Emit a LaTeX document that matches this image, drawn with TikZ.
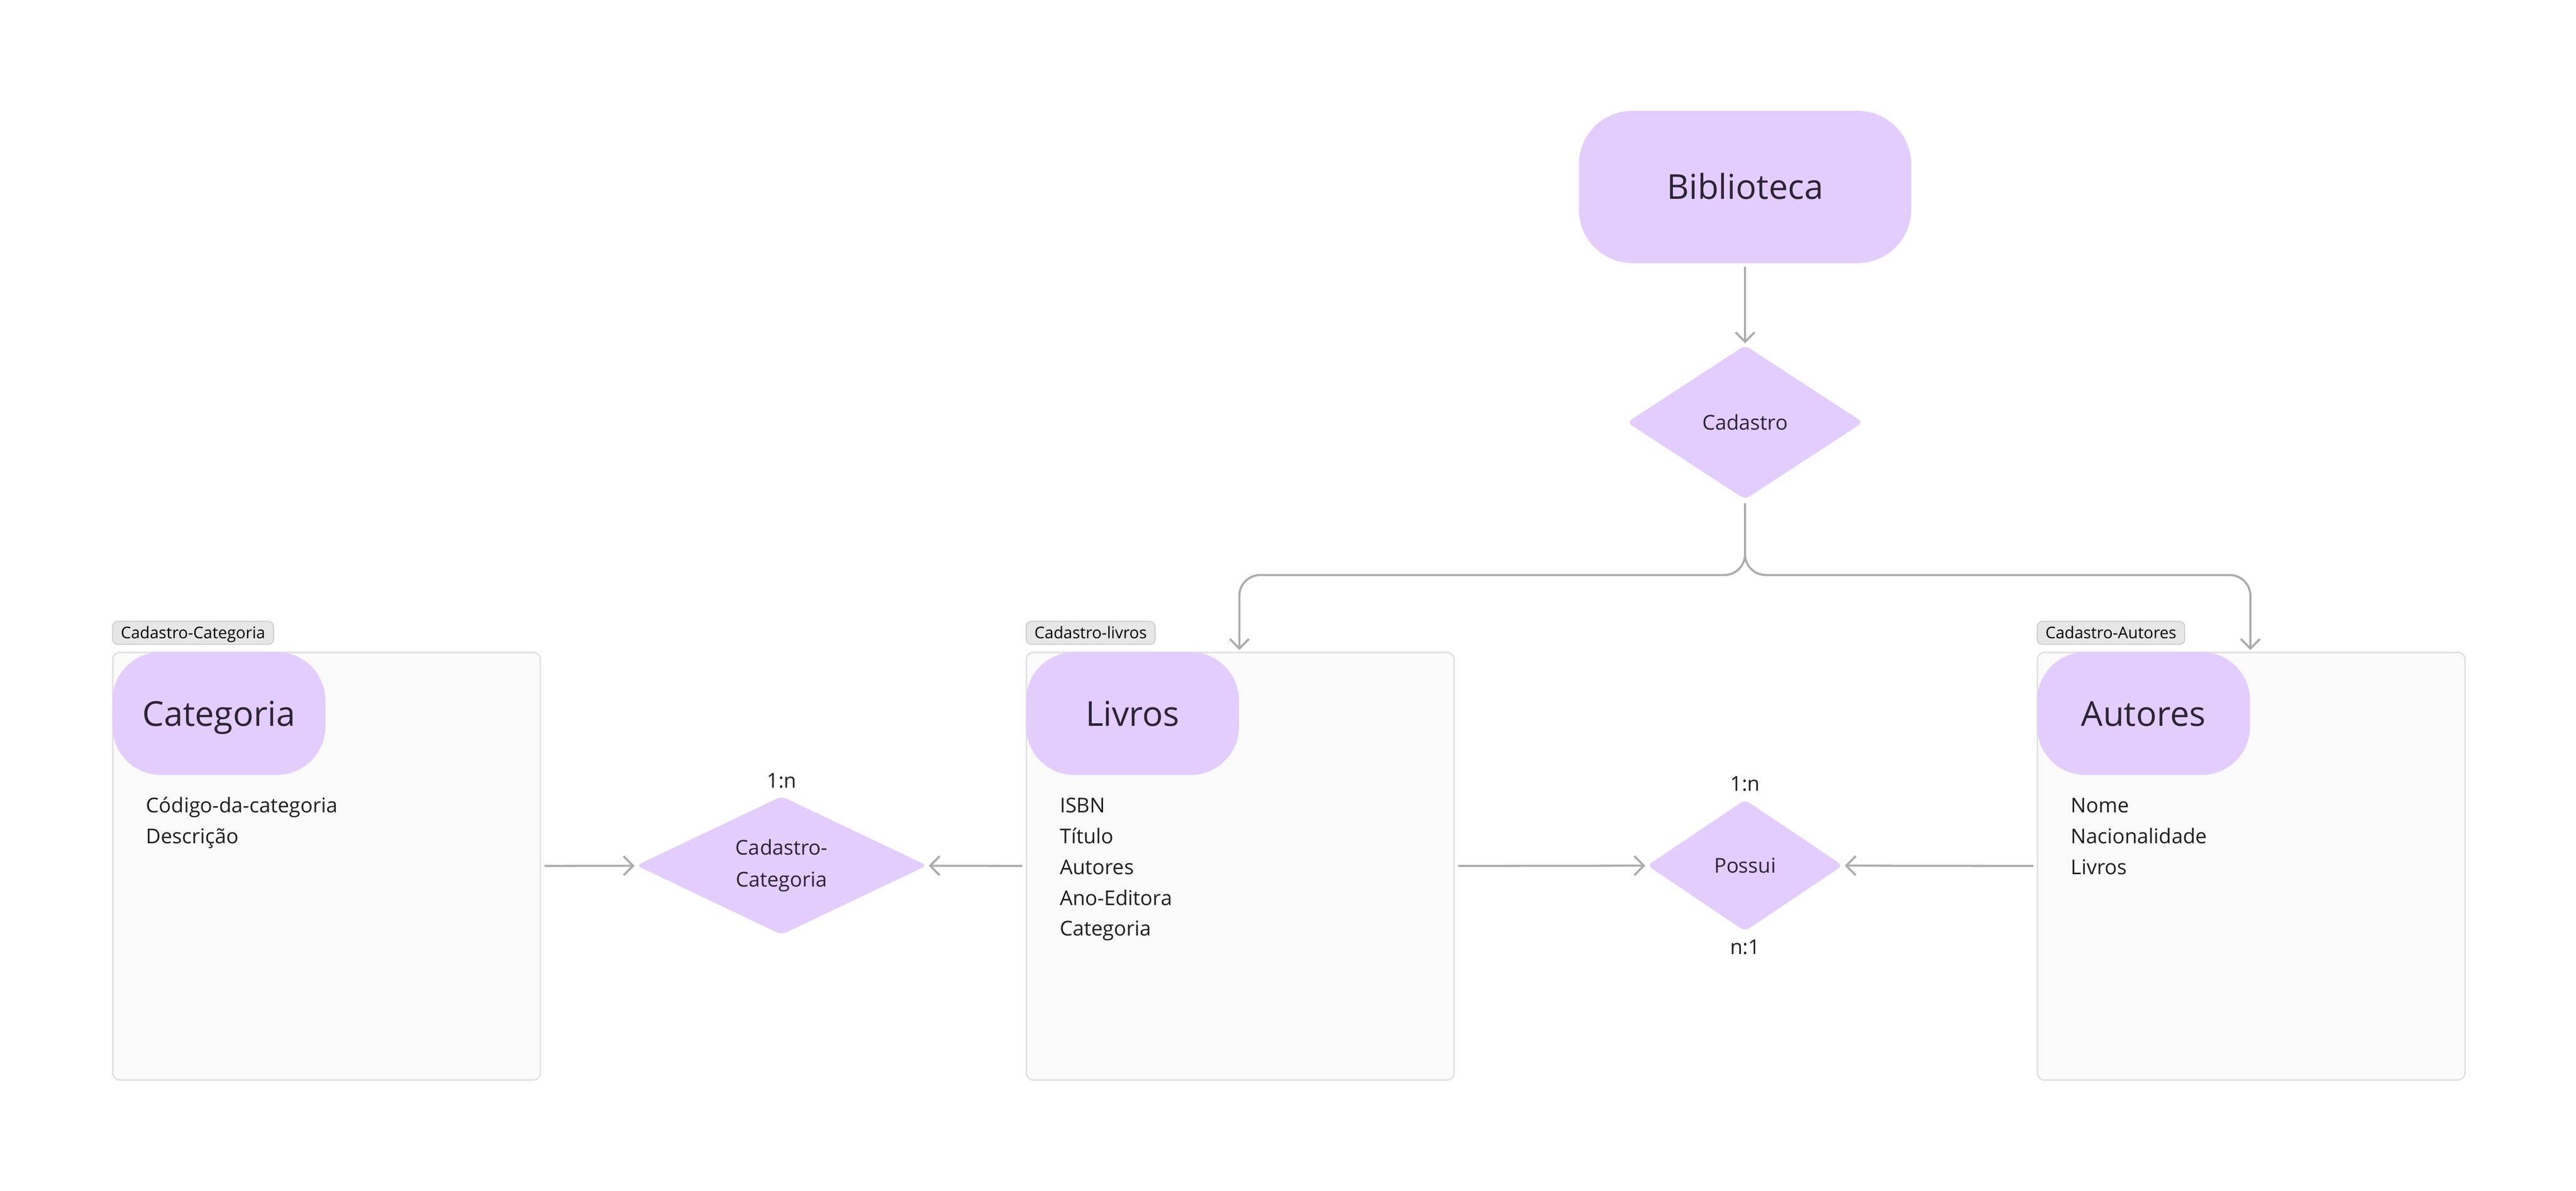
\documentclass[tikz,border=0pt]{standalone}
\usepackage{fontspec}
\setmainfont{Open Sans}
\usetikzlibrary{positioning,calc,shapes.geometric,arrows.meta}
\definecolor{lilac}{RGB}{227,205,253}
\definecolor{ink}{RGB}{44,36,52}
\definecolor{linegray}{RGB}{172,172,172}
\definecolor{framefill}{RGB}{250,250,250}
\definecolor{frameline}{RGB}{224,224,224}
\definecolor{tagfill}{RGB}{230,230,230}
\definecolor{tagline}{RGB}{200,200,200}
\begin{document}
\begin{tikzpicture}%
	[x=1pt, y=-1pt,
	conn/.style={draw=linegray, line width=1.2pt, -{Straight Barb[length=5.5pt,width=11pt]}, shorten <=2pt, shorten >=1pt},
	entity/.style={fill=lilac, text=ink, rounded corners=28pt, minimum width=123pt, minimum height=71pt, inner sep=0pt, font=\fontsize{19.8}{24}\selectfont, text height=14.3pt, text depth=0pt},
	frame/.style={draw=frameline, fill=framefill, line width=0.8pt, rounded corners=4pt, minimum width=247pt, minimum height=247pt, inner sep=0pt},
	tag/.style={draw=tagline, fill=tagfill, line width=0.5pt, rounded corners=3pt, minimum height=13.25pt, inner xsep=4.8pt, inner ysep=0pt, font=\fontsize{9.3}{11}\selectfont, text height=6.7pt, text depth=0pt},
	rel/.style={diamond, shape aspect=2, fill=lilac, text=ink, rounded corners=3pt, inner sep=0pt, align=center, font=\fontsize{11.8}{18.25}\selectfont},
	attr/.style={anchor=base west, inner sep=0pt, text=black!88, font=\fontsize{11.8}{14}\selectfont},
	card/.style={anchor=base, inner sep=0pt, text=black!88, font=\fontsize{11.8}{14}\selectfont}]
	%%
	\path[use as bounding box, fill=white] (0,0) rectangle (1488,688);
	%%
	%% Drawing the frames and their tags
	%%
	\node[frame, anchor=north west] (fcat) at (64.75,376.5) {};
	\node[frame, anchor=north west] (flivros) at (592.5,376.5) {};
	\node[frame, anchor=north west] (fautores) at (1176.5,376.5) {};
	\node[tag, above right=4pt and 0pt of fcat.north west] (tcat) {Cadastro-Categoria};
	\node[tag, above right=4pt and 0pt of flivros.north west] (tlivros) {Cadastro-livros};
	\node[tag, above right=4pt and 0pt of fautores.north west] (tautores) {Cadastro-Autores};
	%%
	%% Drawing the entities
	%%
	\node[entity, minimum width=192pt, minimum height=88pt, rounded corners=31pt] (biblioteca) at (1008,108) {Biblioteca};
	\node[entity, anchor=north west] (categoria) at (fcat.north west) {Categoria};
	\node[entity, anchor=north west] (livros) at (flivros.north west) {Livros};
	\node[entity, anchor=north west] (autores) at (fautores.north west) {Autores};
	%%
	%% Drawing the attributes
	%%
	\foreach \a [count=\i] in {Código-da-categoria,Descrição}
		\node[attr] (acat-\i) at ($(fcat.north west)+(19.5,75.2+17.8*\i)$) {\a};
	\foreach \a [count=\i] in {ISBN,Título,Autores,Ano-Editora,Categoria}
		\node[attr] (alivros-\i) at ($(flivros.north west)+(19.5,75.2+17.8*\i)$) {\a};
	\foreach \a [count=\i] in {Nome,Nacionalidade,Livros}
		\node[attr] (aautores-\i) at ($(fautores.north west)+(19.5,75.2+17.8*\i)$) {\a};
	%%
	%% Drawing the relationships
	%%
	\node[rel, minimum width=136.5pt, minimum height=89pt] (cadastro) at (1008,244) {Cadastro};
	\node[rel, minimum width=168pt, minimum height=80pt] (relcat) at (451.5,500) {Cadastro-\\Categoria};
	\node[rel, minimum width=113pt, minimum height=76pt] (possui) at (1008,500) {Possui};
	\node[card] (ccat) at ($(relcat.north)+(0,-4.75)$) {1:n};
	\node[card] (cpossui-1) at ($(possui.north)+(0,-4.75)$) {1:n};
	\node[card] (cpossui-2) at ($(possui.south)+(0,13)$) {n:1};
	%%
	%% Drawing the connectors
	%%
	\draw[conn] (biblioteca) -- (cadastro);
	\draw[conn, rounded corners=12pt] (cadastro.south) -- ++(0,43.5) -| (livros.north east);
	\draw[conn, rounded corners=12pt] (cadastro.south) -- ++(0,43.5) -| (autores.north east);
	\draw[conn] (fcat) -- (relcat);
	\draw[conn] (flivros) -- (relcat);
	\draw[conn] (flivros) -- (possui);
	\draw[conn] (fautores) -- (possui);
	%%
\end{tikzpicture}
\end{document}
